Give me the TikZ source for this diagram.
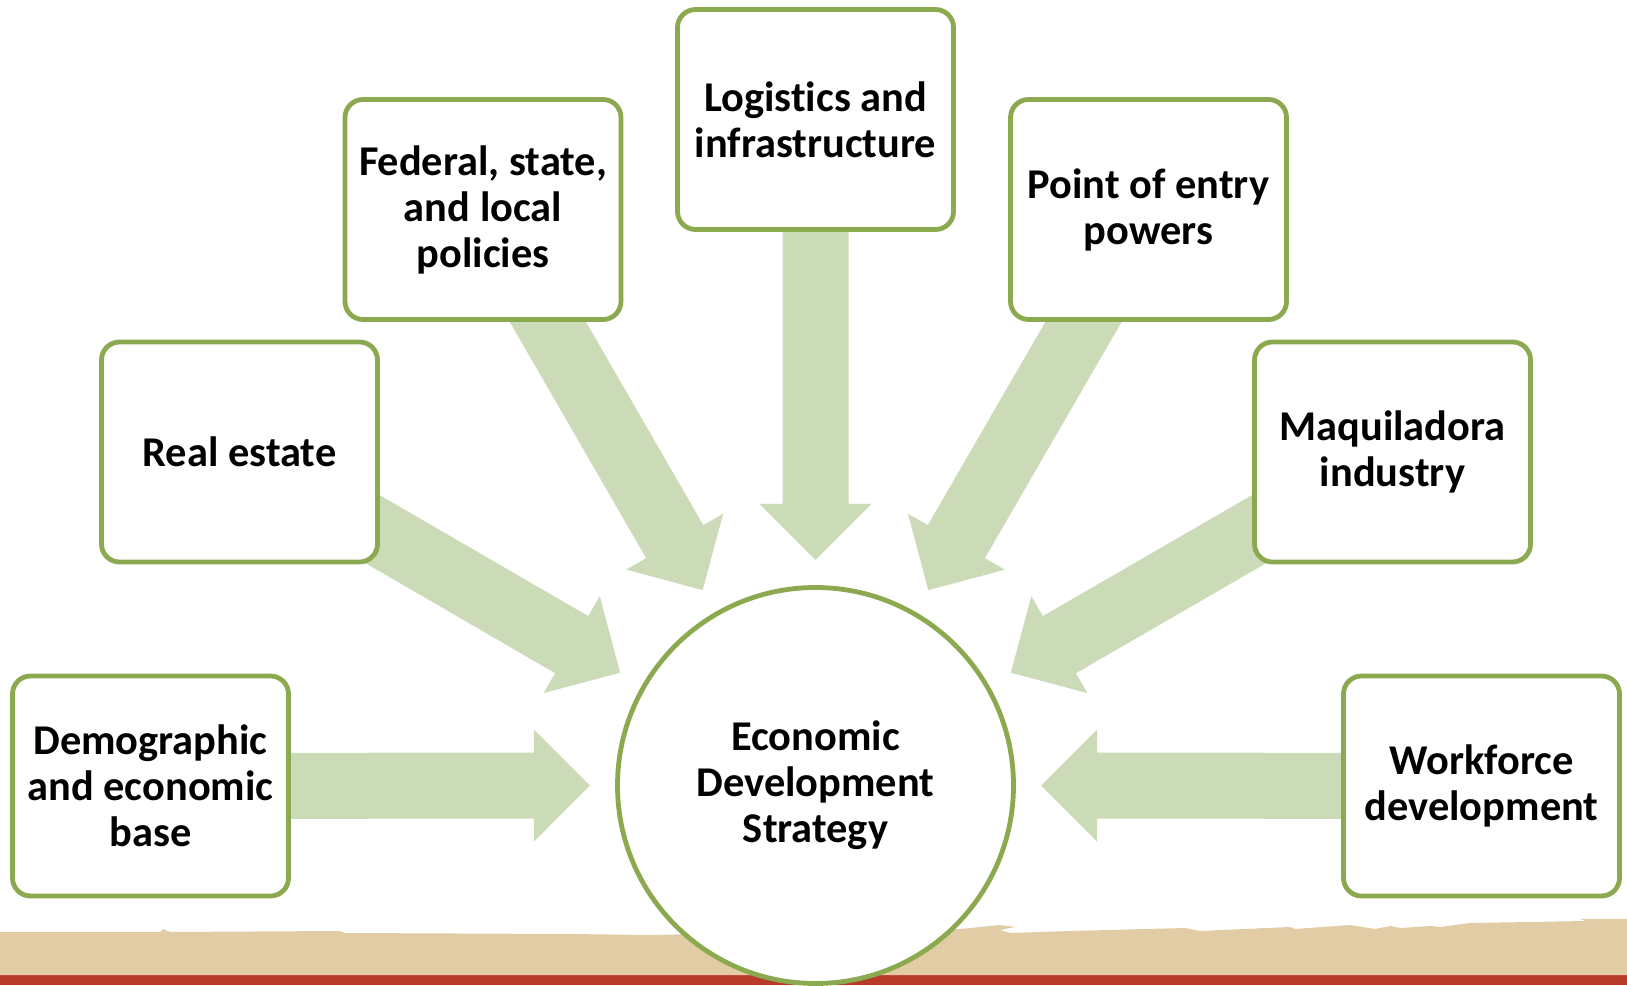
\documentclass[tikz,border=0pt]{standalone}
\usepackage{fontspec}
\setmainfont[Ligatures=NoCommon]{Carlito}
\usetikzlibrary{calc,backgrounds}
\definecolor{boxgreen}{HTML}{8BA94F}
\definecolor{arrowgreen}{HTML}{CCDBB7}
\definecolor{sand}{HTML}{E1CCA6}
\definecolor{brick}{HTML}{B83B29}

\begin{document}
\begin{tikzpicture}[x=0.5pt, y=0.5pt, inner sep=1mm,
  factor/.style={rectangle, rounded corners=9pt, draw=boxgreen, line width=2.4pt, fill=white,
    minimum width=138pt, minimum height=110pt, align=center,
    font=\fontsize{21.2}{23}\selectfont\bfseries},
  goal/.style={circle, draw=boxgreen, line width=2.4pt, fill=white, minimum size=198pt,
    align=center, font=\fontsize{21.2}{23}\selectfont\bfseries}]
\useasboundingbox (0,0) rectangle (1627,985);
% ground strip
\fill[brick] (0,0) rectangle (1627,10);
\fill[sand] (0,10) -- (0,53) -- (160,53) -- (163,56) -- (170,53) -- (340,54) -- (345,52)
  -- (570,51) -- (650,50) -- (960,56) -- (1000,60) -- (1015,58) -- (1000,55) -- (1010,52)
  -- (1070,54) -- (1185,57) -- (1200,54) -- (1290,58) -- (1295,56) -- (1350,60) -- (1375,56)
  -- (1390,59) -- (1400,57) -- (1430,59) -- (1440,58) -- (1470,62) -- (1530,63) -- (1585,64)
  -- (1580,66) -- (1627,66) -- (1627,10) -- cycle;
\node (hub) at (815.5,199.5) [goal] {Economic\\Development\\Strategy};
\node (demo) at (150.5,199) [factor] {Demographic\\and economic\\base};
\node (estate) at (239.5,533) [factor] {Real estate};
\node (policy) at (483,775.5) [factor] {Federal, state,\\and local\\policies};
\node (logist) at (815.5,865.5) [factor] {Logistics and\\infrastructure};
\node (entry) at (1148.5,775.5) [factor] {Point of entry\\powers};
\node (maquila) at (1392.5,533) [factor] {Maquiladora\\industry};
\node (work) at (1481.5,199) [factor] {Workforce\\development};
% block arrows into the hub
\begin{scope}[on background layer]
\foreach \src/\ang in {demo/180, estate/150, policy/120, logist/90, entry/60, maquila/30, work/0} {
  \coordinate (tip) at ($(hub)+(\ang:112.8pt)$);
  \coordinate (neck) at ($(tip)!28pt!(\src)$);
  \fill[arrowgreen] ($(\src)!16.5pt!90:(tip)$) -- ($(neck)!16.5pt!90:(tip)$)
    -- ($(neck)!28pt!90:(tip)$) -- (tip) -- ($(neck)!28pt!-90:(tip)$)
    -- ($(neck)!16.5pt!-90:(tip)$) -- ($(\src)!16.5pt!-90:(tip)$) -- cycle;
}
\end{scope}
\end{tikzpicture}
\end{document}
